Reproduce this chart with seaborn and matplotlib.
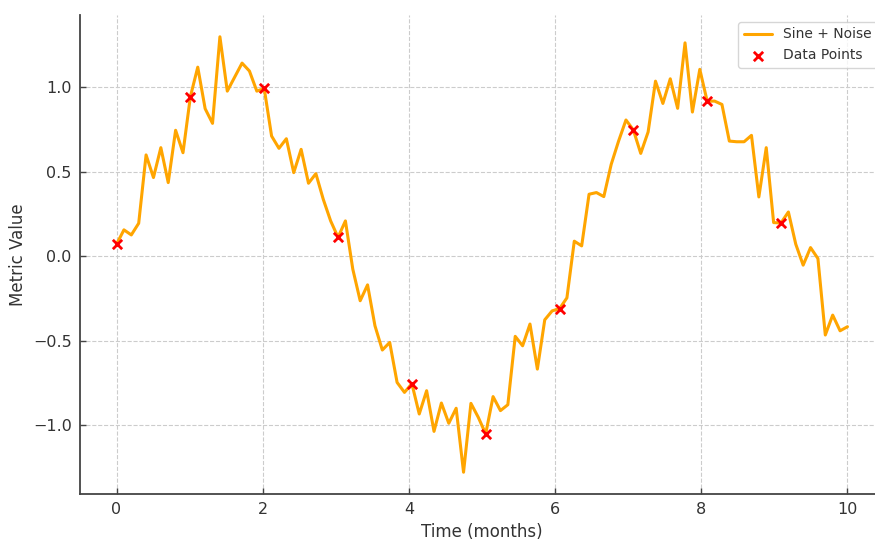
import numpy as np
import pandas as pd
import matplotlib
matplotlib.use("Agg")
import matplotlib.pyplot as plt
import seaborn as sns

# ---- data ----
time_months = np.linspace(0, 10, 100)
metric_values = [
    0.071, 0.156, 0.126, 0.195, 0.600, 0.466, 0.643, 0.436, 0.746, 0.613,
    0.945, 1.120, 0.874, 0.787, 1.300, 0.978, 1.061, 1.144, 1.097, 0.978,
    0.994, 0.712, 0.639, 0.696, 0.495, 0.633, 0.432, 0.489, 0.337, 0.209,
    0.112, 0.209, -0.077, -0.264, -0.170, -0.412, -0.556, -0.511, -0.748, -0.807,
    -0.755, -0.935, -0.797, -1.038, -0.870, -0.990, -0.901, -1.280, -0.872, -0.955,
    -1.053, -0.832, -0.915, -0.880, -0.475, -0.531, -0.402, -0.669, -0.377, -0.324,
    -0.311, -0.247, 0.089, 0.061, 0.367, 0.377, 0.353, 0.544, 0.682, 0.807,
    0.748, 0.609, 0.736, 1.037, 0.905, 1.051, 0.876, 1.264, 0.854, 1.107,
    0.918, 0.919, 0.899, 0.682, 0.678, 0.678, 0.716, 0.351, 0.643, 0.199,
    0.197, 0.262, 0.071, -0.053, 0.051, -0.014, -0.467, -0.349, -0.442, -0.418,
]
sample_step = 10
line_label = "Sine + Noise"
points_label = "Data Points"
x_label = "Time (months)"
y_label = "Metric Value"

df = pd.DataFrame({"t": time_months, "v": metric_values})
pts = df.iloc[::sample_step]

# ---- style ----
sns.set_theme(style="ticks")
plt.rcParams["font.family"] = ["DejaVu Sans"]

fig = plt.figure(figsize=(8.75, 5.43), dpi=100)
ax = fig.add_axes([80 / 875, 49 / 543, 804 / 875, 479 / 543])

sns.lineplot(data=df, x="t", y="v", ax=ax, color="orange", linewidth=2.2,
             label=line_label)
sns.scatterplot(data=pts, x="t", y="v", ax=ax, color="red", marker="x",
                s=45, linewidth=2, label=points_label, zorder=3)

ax.grid(True, linestyle="--", color="#cccccc", linewidth=0.8)
ax.set_axisbelow(True)
sns.despine(ax=ax)
for side in ("left", "bottom"):
    ax.spines[side].set_color("#444444")
    ax.spines[side].set_linewidth(1.3)

ax.tick_params(direction="in", length=4, width=1, colors="#444444",
               labelcolor="#333333", labelsize=11.5, pad=6)
ax.set_xlabel(x_label, fontsize=12, color="#333333")
ax.set_ylabel(y_label, fontsize=12, color="#333333")

leg = ax.legend(loc="upper right", fontsize=10, frameon=True)
leg.get_frame().set_edgecolor("#cccccc")
for t in leg.get_texts():
    t.set_color("#333333")

fig.savefig("out.png", dpi=100)
